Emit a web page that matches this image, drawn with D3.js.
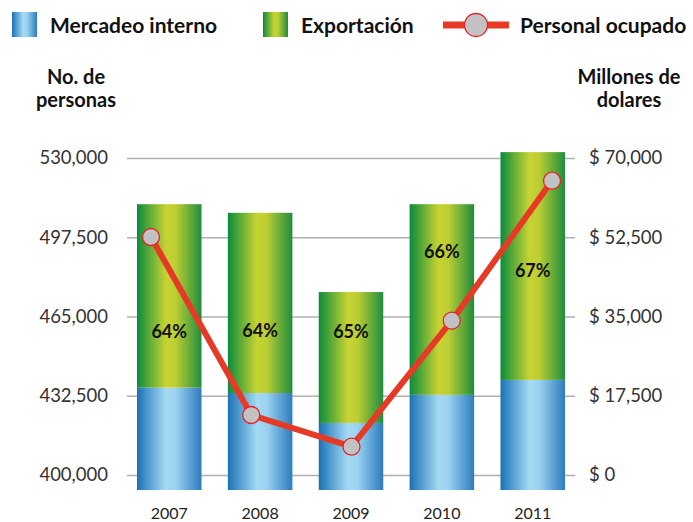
<!DOCTYPE html>
<html>
<head>
<meta charset="utf-8">
<script src="https://cdn.jsdelivr.net/npm/d3@7"></script>
<style>
    body { margin: 0; background: #fff; }
    svg { display: block; font-family: Lato, "Open Sans", sans-serif; }
</style>
</head>
<body>
<div id="viz"></div>
<script>
// data
const years = ["2007", "2008", "2009", "2010", "2011"];
const mercadeo = [19300, 18100, 11500, 17700, 21000];      // millones de dolares
const exportacion = [40500, 39800, 28900, 42100, 50300];   // millones de dolares
const personal = [497600, 424600, 411600, 463300, 520700]; // no. de personas
const exportShare = ["64%", "64%", "65%", "66%", "67%"];
const leftTicks = [400000, 432500, 465000, 497500, 530000];
const rightTicks = [0, 17500, 35000, 52500, 70000];

const W = 693, H = 522;
const plotL = 127, plotR = 575, plotTop = 158, zeroY = 475, plotBottom = 490;

const svg = d3.select("#viz").append("svg").attr("width", W).attr("height", H);

// gradients
let defs = svg.append("defs");
function grad(id, stops) {
    let g = defs.append("linearGradient").attr("id", id)
        .attr("x1", 0).attr("x2", 1).attr("y1", 0).attr("y2", 0);
    g.selectAll("stop").data(stops).join("stop")
        .attr("offset", d => d[0]).attr("stop-color", d => d[1]);
}
grad("blueGrad", [[0, "#1a72b6"], [0.45, "#a4daf3"], [0.6, "#9bd2f0"], [1, "#2c7cbe"]]);
grad("greenGrad", [[0, "#0a8c3c"], [0.45, "#c8d332"], [0.6, "#bcce33"], [1, "#1f8d3e"]]);

// scales
let yLeft = d3.scaleLinear().domain([400000, 530000]).range([zeroY, plotTop]);
let yRight = d3.scaleLinear().domain([0, 70000]).range([zeroY, plotTop]);
let xBand = d3.scaleBand().domain(years).range([plotL, plotR]).paddingInner(0.29).paddingOuter(0.11);
let xLine = d3.scalePoint().domain(years).range([151, 552]);

// grid lines + left axis
let gLeft = svg.append("g").attr("transform", `translate(${plotL},0)`)
    .call(d3.axisLeft(yLeft).tickValues(leftTicks).tickSize(-(plotR - plotL)).tickPadding(19)
        .tickFormat(d3.format(",")));
gLeft.select(".domain").remove();
gLeft.selectAll("line").attr("stroke", "#b0b0b0").attr("stroke-width", 1.6);
gLeft.selectAll("text").attr("font-size", 18.5).attr("fill", "#333")
    .attr("font-family", "Lato, sans-serif");

// right axis
let gRight = svg.append("g").attr("transform", `translate(${plotR},0)`)
    .call(d3.axisRight(yRight).tickValues(rightTicks).tickSize(0).tickPadding(14)
        .tickFormat(d => "$ " + d3.format(",")(d)));
gRight.select(".domain").remove();
gRight.selectAll("text").attr("font-size", 18.5).attr("fill", "#333")
    .attr("font-family", "Lato, sans-serif");

// bars
let bars = years.map((y, i) => ({ year: y, m: mercadeo[i], e: exportacion[i], pct: exportShare[i] }));

svg.append("g").selectAll("rect").data(bars).join("rect")
    .attr("x", d => xBand(d.year))
    .attr("y", d => yRight(d.m))
    .attr("width", xBand.bandwidth())
    .attr("height", d => plotBottom - yRight(d.m))
    .attr("fill", "url(#blueGrad)");

svg.append("g").selectAll("rect").data(bars).join("rect")
    .attr("x", d => xBand(d.year))
    .attr("y", d => yRight(d.m + d.e))
    .attr("width", xBand.bandwidth())
    .attr("height", d => yRight(d.m) - yRight(d.m + d.e))
    .attr("fill", "url(#greenGrad)");

// percentage labels (placement as in the original)
const pctY = [332, 331, 332, 252, 271];
svg.append("g").selectAll("text").data(bars).join("text")
    .attr("x", d => xBand(d.year) + xBand.bandwidth() / 2)
    .attr("y", (d, i) => pctY[i])
    .attr("dy", "0.36em")
    .attr("text-anchor", "middle")
    .attr("font-weight", "bold")
    .attr("font-size", 18)
    .attr("fill", "#111")
    .text(d => d.pct);

// x labels
svg.append("g").selectAll("text").data(years).join("text")
    .attr("x", d => xBand(d) + xBand.bandwidth() / 2)
    .attr("y", 513)
    .attr("dy", "0.36em")
    .attr("text-anchor", "middle")
    .attr("font-size", 16)
    .attr("fill", "#222")
    .text(d => d);

// line
let pts = years.map((y, i) => ({ year: y, v: personal[i] }));
let line = d3.line().x(d => xLine(d.year)).y(d => yLeft(d.v));
svg.append("path").datum(pts)
    .attr("d", line)
    .attr("fill", "none")
    .attr("stroke", "#e63a27")
    .attr("stroke-width", 6)
    .attr("stroke-linejoin", "round");
svg.append("g").selectAll("circle").data(pts).join("circle")
    .attr("cx", d => xLine(d.year))
    .attr("cy", d => yLeft(d.v))
    .attr("r", 8.5)
    .attr("fill", "#c2c2c2")
    .attr("stroke", "#e2232a")
    .attr("stroke-width", 1.3);

// axis titles
function title(x, lines) {
    let t = svg.append("text").attr("text-anchor", "middle")
        .attr("font-weight", "bold").attr("font-size", 20).attr("fill", "#111");
    lines.forEach((s, i) => t.append("tspan").attr("x", x).attr("y", 84 + i * 23).text(s));
}
title(76, ["No. de", "personas"]);
title(629, ["Millones de", "dolares"]);

// legend
let lg = svg.append("g");
lg.append("rect").attr("x", 12).attr("y", 12).attr("width", 25).attr("height", 25).attr("fill", "url(#blueGrad)");
lg.append("text").attr("x", 50).attr("y", 25).attr("dy", "0.36em").text("Mercadeo interno");
lg.append("rect").attr("x", 263).attr("y", 12).attr("width", 25).attr("height", 25).attr("fill", "url(#greenGrad)");
lg.append("text").attr("x", 301).attr("y", 25).attr("dy", "0.36em").text("Exportación");
lg.append("line").attr("x1", 443).attr("x2", 509).attr("y1", 25).attr("y2", 25)
    .attr("stroke", "#e63a27").attr("stroke-width", 7);
lg.append("circle").attr("cx", 476).attr("cy", 25).attr("r", 11.5)
    .attr("fill", "#c2c2c2").attr("stroke", "#e2232a").attr("stroke-width", 1.3);
lg.append("text").attr("x", 520).attr("y", 25).attr("dy", "0.36em").text("Personal ocupado");
lg.selectAll("text").attr("font-weight", "bold").attr("font-size", 21).attr("fill", "#111");
</script>
</body>
</html>
